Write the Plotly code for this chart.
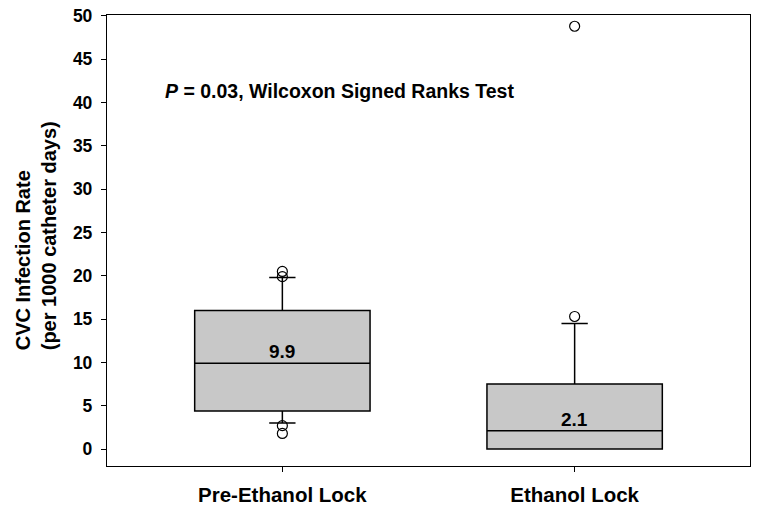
import plotly.graph_objects as go

categories = ["Pre-Ethanol Lock", "Ethanol Lock"]
q1 = [4.4, 0.0]
medians = [9.9, 2.1]
q3 = [16.0, 7.5]
lower_whisker = [3.0, 0.0]
upper_whisker = [19.8, 14.5]
outliers = {
    "Pre-Ethanol Lock": [20.5, 19.9, 2.7, 1.8],
    "Ethanol Lock": [15.3, 48.8],
}
y_ticks = [0, 5, 10, 15, 20, 25, 30, 35, 40, 45, 50]

FONT = "Liberation Sans, Arial, sans-serif"

fig = go.Figure()
for i, cat in enumerate(categories):
    fig.add_trace(go.Box(
        x=[cat], q1=[q1[i]], median=[medians[i]], q3=[q3[i]],
        lowerfence=[lower_whisker[i]], upperfence=[upper_whisker[i]],
        boxpoints=False, width=0.6, whiskerwidth=0.15,
        fillcolor="#c8c8c8", line=dict(color="black", width=1.5),
        showlegend=False, hoverinfo="skip",
    ))
    fig.add_trace(go.Scatter(
        x=[cat] * len(outliers[cat]), y=outliers[cat], mode="markers",
        marker=dict(symbol="circle-open", size=10, color="black",
                    line=dict(width=1.2, color="black")),
        showlegend=False,
    ))
    fig.add_annotation(
        x=cat, y=medians[i], text=f"{medians[i]:.1f}", showarrow=False,
        yanchor="bottom", yshift=-1,
        font=dict(family=FONT, size=19, color="black", weight="bold"),
    )

fig.add_annotation(
    xref="paper", yref="paper", x=0.087, y=0.831,
    text="<i>P</i> = 0.03, Wilcoxon Signed Ranks Test",
    showarrow=False, xanchor="left", yanchor="middle",
    font=dict(family=FONT, size=19.5, color="black", weight="bold"),
)
fig.add_annotation(
    xref="paper", yref="paper", x=-0.11, y=0.51,
    xanchor="center", yanchor="middle", align="left",
    text="CVC Infection Rate<br>(per 1000 catheter days)",
    textangle=-90, showarrow=False,
    font=dict(family=FONT, size=20, color="black", weight="bold"),
)

fig.update_layout(
    width=762, height=514,
    margin=dict(l=107, r=12, t=15, b=48, autoexpand=False),
    paper_bgcolor="white", plot_bgcolor="white",
    xaxis=dict(
        type="category", range=[-0.6, 1.6], automargin=False,
        showline=True, mirror=True, linecolor="black", linewidth=1.3,
        ticks="outside", ticklen=5, tickcolor="black", ticklabelstandoff=5,
        tickfont=dict(family=FONT, size=20.5, color="black", weight="bold"),
        showgrid=False, zeroline=False,
    ),
    yaxis=dict(
        range=[-1.96, 50.1], tickvals=y_ticks, automargin=False,
        showline=True, mirror=True, linecolor="black", linewidth=1.3,
        ticks="outside", ticklen=5, tickcolor="black", ticklabelstandoff=5,
        tickfont=dict(family=FONT, size=17.5, color="black", weight="bold"),
        showgrid=False, zeroline=False,
    ),
)

fig.write_html("out.html", config={"displayModeBar": False},
               post_script="document.body.style.margin='0';")
